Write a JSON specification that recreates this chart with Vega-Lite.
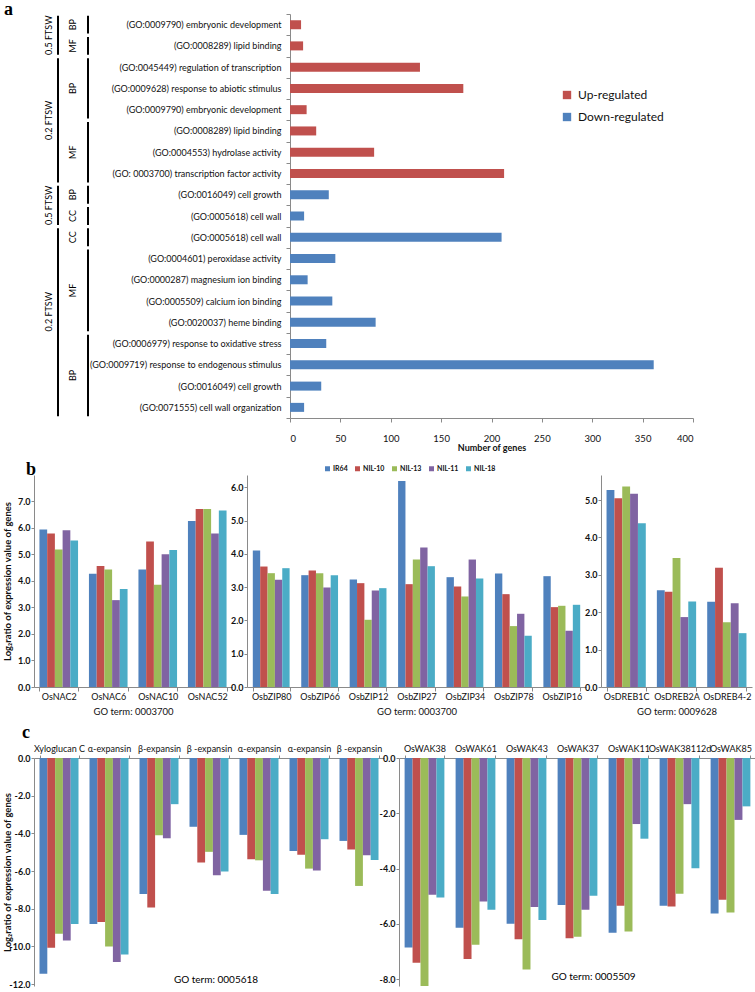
{
"$schema":"https://vega.github.io/schema/vega-lite/v6.json",
"background":"white",
"padding":{"left":2,"top":1,"right":0,"bottom":0},
"config":{
 "font":"Lato",
 "view":{"stroke":null},
 "axis":{"grid":false,"domainColor":"#8a8a8a","tickColor":"#8a8a8a","labelColor":"#111","titleColor":"#111","labelFont":"Lato","titleFont":"Lato"},
 "legend":{"labelFont":"Lato","labelColor":"#111"},
 "title":{"font":"Liberation Serif","fontSize":18,"fontWeight":"bold","color":"#000"}
},
"datasets":{
 "go":[
  {"label":"(GO:0009790) embryonic development","n":11,"reg":"Up-regulated"},
  {"label":"(GO:0008289) lipid binding","n":13,"reg":"Up-regulated"},
  {"label":"(GO:0045449) regulation of transcription","n":129,"reg":"Up-regulated"},
  {"label":"(GO:0009628) response to abiotic stimulus","n":172,"reg":"Up-regulated"},
  {"label":"(GO:0009790) embryonic development\u200b","n":16.5,"reg":"Up-regulated"},
  {"label":"(GO:0008289) lipid binding\u200b","n":26,"reg":"Up-regulated"},
  {"label":"(GO:0004553) hydrolase activity","n":83.5,"reg":"Up-regulated"},
  {"label":"(GO: 0003700) transcription factor activity","n":212.5,"reg":"Up-regulated"},
  {"label":"(GO:0016049) cell growth","n":38.5,"reg":"Down-regulated"},
  {"label":"(GO:0005618) cell wall","n":14,"reg":"Down-regulated"},
  {"label":"(GO:0005618) cell wall\u200b","n":210,"reg":"Down-regulated"},
  {"label":"(GO:0004601) peroxidase activity","n":45,"reg":"Down-regulated"},
  {"label":"(GO:0000287) magnesium ion binding","n":17.5,"reg":"Down-regulated"},
  {"label":"(GO:0005509) calcium ion binding","n":42,"reg":"Down-regulated"},
  {"label":"(GO:0020037) heme binding","n":85,"reg":"Down-regulated"},
  {"label":"(GO:0006979) response to oxidative stress","n":36,"reg":"Down-regulated"},
  {"label":"(GO:0009719) response to endogenous stimulus","n":361,"reg":"Down-regulated"},
  {"label":"(GO:0016049) cell growth\u200b","n":31,"reg":"Down-regulated"},
  {"label":"(GO:0071555) cell wall organization","n":14,"reg":"Down-regulated"}
 ],
 "grp":[
  {"lv":"f","t":"0.5 FTSW","a":"(GO:0009790) embryonic development","b":"(GO:0008289) lipid binding","m":"(GO:0009790) embryonic development","e":1},
  {"lv":"f","t":"0.2 FTSW","a":"(GO:0045449) regulation of transcription","b":"(GO: 0003700) transcription factor activity","m":"(GO:0009790) embryonic development\u200b","e":1},
  {"lv":"f","t":"0.5 FTSW","a":"(GO:0016049) cell growth","b":"(GO:0005618) cell wall","m":"(GO:0016049) cell growth","e":1},
  {"lv":"f","t":"0.2 FTSW","a":"(GO:0005618) cell wall\u200b","b":"(GO:0071555) cell wall organization","m":"(GO:0005509) calcium ion binding","e":1},
  {"lv":"s","t":"BP","a":"(GO:0009790) embryonic development","b":"(GO:0009790) embryonic development","m":"(GO:0009790) embryonic development","e":0},
  {"lv":"s","t":"MF","a":"(GO:0008289) lipid binding","b":"(GO:0008289) lipid binding","m":"(GO:0008289) lipid binding","e":0},
  {"lv":"s","t":"BP","a":"(GO:0045449) regulation of transcription","b":"(GO:0009790) embryonic development\u200b","m":"(GO:0009628) response to abiotic stimulus","e":0},
  {"lv":"s","t":"MF","a":"(GO:0008289) lipid binding\u200b","b":"(GO: 0003700) transcription factor activity","m":"(GO:0004553) hydrolase activity","e":0},
  {"lv":"s","t":"BP","a":"(GO:0016049) cell growth","b":"(GO:0016049) cell growth","m":"(GO:0016049) cell growth","e":0},
  {"lv":"s","t":"CC","a":"(GO:0005618) cell wall","b":"(GO:0005618) cell wall","m":"(GO:0005618) cell wall","e":0},
  {"lv":"s","t":"CC","a":"(GO:0005618) cell wall\u200b","b":"(GO:0005618) cell wall\u200b","m":"(GO:0005618) cell wall\u200b","e":0},
  {"lv":"s","t":"MF","a":"(GO:0004601) peroxidase activity","b":"(GO:0020037) heme binding","m":"(GO:0000287) magnesium ion binding","e":1},
  {"lv":"s","t":"BP","a":"(GO:0006979) response to oxidative stress","b":"(GO:0071555) cell wall organization","m":"(GO:0009719) response to endogenous stimulus","e":1}
 ],
 "b1":[
  {"g":"OsNAC2","s":"IR64","v":5.93},{"g":"OsNAC2","s":"NIL-10","v":5.78},{"g":"OsNAC2","s":"NIL-13","v":5.18},{"g":"OsNAC2","s":"NIL-11","v":5.9},{"g":"OsNAC2","s":"NIL-18","v":5.51},
  {"g":"OsNAC6","s":"IR64","v":4.26},{"g":"OsNAC6","s":"NIL-10","v":4.55},{"g":"OsNAC6","s":"NIL-13","v":4.42},{"g":"OsNAC6","s":"NIL-11","v":3.27},{"g":"OsNAC6","s":"NIL-18","v":3.69},
  {"g":"OsNAC10","s":"IR64","v":4.42},{"g":"OsNAC10","s":"NIL-10","v":5.48},{"g":"OsNAC10","s":"NIL-13","v":3.85},{"g":"OsNAC10","s":"NIL-11","v":5.0},{"g":"OsNAC10","s":"NIL-18","v":5.16},
  {"g":"OsNAC52","s":"IR64","v":6.25},{"g":"OsNAC52","s":"NIL-10","v":6.7},{"g":"OsNAC52","s":"NIL-13","v":6.7},{"g":"OsNAC52","s":"NIL-11","v":5.78},{"g":"OsNAC52","s":"NIL-18","v":6.64}
 ],
 "b2":[
  {"g":"OsbZIP80","s":"IR64","v":4.1},{"g":"OsbZIP80","s":"NIL-10","v":3.62},{"g":"OsbZIP80","s":"NIL-13","v":3.42},{"g":"OsbZIP80","s":"NIL-11","v":3.22},{"g":"OsbZIP80","s":"NIL-18","v":3.57},
  {"g":"OsbZIP66","s":"IR64","v":3.36},{"g":"OsbZIP66","s":"NIL-10","v":3.5},{"g":"OsbZIP66","s":"NIL-13","v":3.42},{"g":"OsbZIP66","s":"NIL-11","v":2.99},{"g":"OsbZIP66","s":"NIL-18","v":3.36},
  {"g":"OsbZIP12","s":"IR64","v":3.23},{"g":"OsbZIP12","s":"NIL-10","v":3.12},{"g":"OsbZIP12","s":"NIL-13","v":2.02},{"g":"OsbZIP12","s":"NIL-11","v":2.9},{"g":"OsbZIP12","s":"NIL-18","v":2.97},
  {"g":"OsbZIP27","s":"IR64","v":6.19},{"g":"OsbZIP27","s":"NIL-10","v":3.09},{"g":"OsbZIP27","s":"NIL-13","v":3.83},{"g":"OsbZIP27","s":"NIL-11","v":4.19},{"g":"OsbZIP27","s":"NIL-18","v":3.63},
  {"g":"OsbZIP34","s":"IR64","v":3.3},{"g":"OsbZIP34","s":"NIL-10","v":3.02},{"g":"OsbZIP34","s":"NIL-13","v":2.72},{"g":"OsbZIP34","s":"NIL-11","v":3.83},{"g":"OsbZIP34","s":"NIL-18","v":3.26},
  {"g":"OsbZIP78","s":"IR64","v":3.41},{"g":"OsbZIP78","s":"NIL-10","v":2.79},{"g":"OsbZIP78","s":"NIL-13","v":1.83},{"g":"OsbZIP78","s":"NIL-11","v":2.2},{"g":"OsbZIP78","s":"NIL-18","v":1.54},
  {"g":"OsbZIP16","s":"IR64","v":3.33},{"g":"OsbZIP16","s":"NIL-10","v":2.4},{"g":"OsbZIP16","s":"NIL-13","v":2.44},{"g":"OsbZIP16","s":"NIL-11","v":1.69},{"g":"OsbZIP16","s":"NIL-18","v":2.47}
 ],
 "b3":[
  {"g":"OsDREB1C","s":"IR64","v":5.27},{"g":"OsDREB1C","s":"NIL-10","v":5.05},{"g":"OsDREB1C","s":"NIL-13","v":5.36},{"g":"OsDREB1C","s":"NIL-11","v":5.17},{"g":"OsDREB1C","s":"NIL-18","v":4.38},
  {"g":"OsDREB2A","s":"IR64","v":2.59},{"g":"OsDREB2A","s":"NIL-10","v":2.55},{"g":"OsDREB2A","s":"NIL-13","v":3.45},{"g":"OsDREB2A","s":"NIL-11","v":1.87},{"g":"OsDREB2A","s":"NIL-18","v":2.29},
  {"g":"OsDREB4-2","s":"IR64","v":2.28},{"g":"OsDREB4-2","s":"NIL-10","v":3.19},{"g":"OsDREB4-2","s":"NIL-13","v":1.73},{"g":"OsDREB4-2","s":"NIL-11","v":2.24},{"g":"OsDREB4-2","s":"NIL-18","v":1.44}
 ],
 "c1":[
  {"g":"Xyloglucan C","s":"IR64","v":-11.45},{"g":"Xyloglucan C","s":"NIL-10","v":-10.07},{"g":"Xyloglucan C","s":"NIL-13","v":-9.33},{"g":"Xyloglucan C","s":"NIL-11","v":-9.68},{"g":"Xyloglucan C","s":"NIL-18","v":-8.81},
  {"g":"α-expansin","s":"IR64","v":-8.81},{"g":"α-expansin","s":"NIL-10","v":-8.71},{"g":"α-expansin","s":"NIL-13","v":-10.0},{"g":"α-expansin","s":"NIL-11","v":-10.83},{"g":"α-expansin","s":"NIL-18","v":-10.43},
  {"g":"β-expansin","s":"IR64","v":-7.22},{"g":"β-expansin","s":"NIL-10","v":-7.94},{"g":"β-expansin","s":"NIL-13","v":-4.1},{"g":"β-expansin","s":"NIL-11","v":-4.26},{"g":"β-expansin","s":"NIL-18","v":-2.45},
  {"g":"β -expansin","s":"IR64","v":-3.65},{"g":"β -expansin","s":"NIL-10","v":-5.55},{"g":"β -expansin","s":"NIL-13","v":-4.98},{"g":"β -expansin","s":"NIL-11","v":-6.22},{"g":"β -expansin","s":"NIL-18","v":-6.03},
  {"g":"α-expansin\u200b","s":"IR64","v":-4.08},{"g":"α-expansin\u200b","s":"NIL-10","v":-5.37},{"g":"α-expansin\u200b","s":"NIL-13","v":-5.43},{"g":"α-expansin\u200b","s":"NIL-11","v":-7.04},{"g":"α-expansin\u200b","s":"NIL-18","v":-7.22},
  {"g":"α-expansin\u200b\u200b","s":"IR64","v":-4.93},{"g":"α-expansin\u200b\u200b","s":"NIL-10","v":-5.14},{"g":"α-expansin\u200b\u200b","s":"NIL-13","v":-5.87},{"g":"α-expansin\u200b\u200b","s":"NIL-11","v":-5.97},{"g":"α-expansin\u200b\u200b","s":"NIL-18","v":-4.31},
  {"g":"β -expansin\u200b","s":"IR64","v":-4.4},{"g":"β -expansin\u200b","s":"NIL-10","v":-4.86},{"g":"β -expansin\u200b","s":"NIL-13","v":-6.79},{"g":"β -expansin\u200b","s":"NIL-11","v":-5.16},{"g":"β -expansin\u200b","s":"NIL-18","v":-5.41}
 ],
 "c2":[
  {"g":"OsWAK38","s":"IR64","v":-6.86},{"g":"OsWAK38","s":"NIL-10","v":-7.41},{"g":"OsWAK38","s":"NIL-13","v":-8.3},{"g":"OsWAK38","s":"NIL-11","v":-4.95},{"g":"OsWAK38","s":"NIL-18","v":-5.05},
  {"g":"OsWAK61","s":"IR64","v":-6.14},{"g":"OsWAK61","s":"NIL-10","v":-7.27},{"g":"OsWAK61","s":"NIL-13","v":-6.76},{"g":"OsWAK61","s":"NIL-11","v":-5.19},{"g":"OsWAK61","s":"NIL-18","v":-5.49},
  {"g":"OsWAK43","s":"IR64","v":-6.0},{"g":"OsWAK43","s":"NIL-10","v":-6.56},{"g":"OsWAK43","s":"NIL-13","v":-7.65},{"g":"OsWAK43","s":"NIL-11","v":-5.39},{"g":"OsWAK43","s":"NIL-18","v":-5.86},
  {"g":"OsWAK37","s":"IR64","v":-5.32},{"g":"OsWAK37","s":"NIL-10","v":-6.52},{"g":"OsWAK37","s":"NIL-13","v":-6.47},{"g":"OsWAK37","s":"NIL-11","v":-5.49},{"g":"OsWAK37","s":"NIL-18","v":-4.98},
  {"g":"OsWAK11","s":"IR64","v":-6.32},{"g":"OsWAK11","s":"NIL-10","v":-5.35},{"g":"OsWAK11","s":"NIL-13","v":-6.28},{"g":"OsWAK11","s":"NIL-11","v":-2.39},{"g":"OsWAK11","s":"NIL-18","v":-2.92},
  {"g":"OsWAK38112d","s":"IR64","v":-5.35},{"g":"OsWAK38112d","s":"NIL-10","v":-5.37},{"g":"OsWAK38112d","s":"NIL-13","v":-4.91},{"g":"OsWAK38112d","s":"NIL-11","v":-1.67},{"g":"OsWAK38112d","s":"NIL-18","v":-3.99},
  {"g":"OsWAK85","s":"IR64","v":-5.63},{"g":"OsWAK85","s":"NIL-10","v":-5.13},{"g":"OsWAK85","s":"NIL-13","v":-5.59},{"g":"OsWAK85","s":"NIL-11","v":-2.24},{"g":"OsWAK85","s":"NIL-18","v":-1.75}
 ]
},
"spacing":8,
"resolve":{"scale":{"x":"independent","y":"independent","color":"independent","xOffset":"independent"},"legend":{"color":"independent"}},
"vconcat":[
 {
  "width":659,"height":404,
  "title":{"text":"a","anchor":"start","frame":"group","dx":-30,"offset":-9},
  "layer":[
   {"data":{"name":"go"},"mark":{"type":"bar","size":9},
    "encoding":{
     "y":{"field":"label","type":"nominal","title":null,
      "scale":{"domain":["(GO:0009790) embryonic development","(GO:0008289) lipid binding","(GO:0045449) regulation of transcription","(GO:0009628) response to abiotic stimulus","(GO:0009790) embryonic development\u200b","(GO:0008289) lipid binding\u200b","(GO:0004553) hydrolase activity","(GO: 0003700) transcription factor activity","(GO:0016049) cell growth","(GO:0005618) cell wall","(GO:0005618) cell wall\u200b","(GO:0004601) peroxidase activity","(GO:0000287) magnesium ion binding","(GO:0005509) calcium ion binding","(GO:0020037) heme binding","(GO:0006979) response to oxidative stress","(GO:0009719) response to endogenous stimulus","(GO:0016049) cell growth\u200b","(GO:0071555) cell wall organization"],"paddingInner":0,"paddingOuter":0},
      "axis":{"title":null,"offset":-256,"labelFontSize":9,"labelPadding":5,"tickBand":"extent","tickSize":4,"labelLimit":280}},
     "x":{"field":"n","type":"quantitative","scale":{"domain":[0,400],"nice":false,"range":[256,659]},
      "axis":{"values":[0,50,100,150,200,250,300,350,400],"title":"Number of genes","titleFontSize":9,"titleFontWeight":"bold","labelFontSize":9.5,"tickSize":4,"titlePadding":1,"labelPadding":11}},
     "color":{"field":"reg","type":"nominal","scale":{"domain":["Up-regulated","Down-regulated"],"range":["#C0504D","#4F81BD"]},
      "legend":{"title":null,"orient":"none","legendX":527,"legendY":75,"labelFontSize":12,"symbolType":"square","symbolSize":70,"rowPadding":10,"labelOffset":5,"symbolStrokeWidth":0}}
    }},
   {"data":{"name":"grp"},"transform":[{"filter":"datum.lv=='f'"}],"mark":{"type":"rule","strokeWidth":2,"color":"#000"},
    "encoding":{"y":{"field":"a","type":"nominal","bandPosition":0.08,"title":null},"y2":{"field":"b","bandPosition":0.92},"x":{"value":24}}},
   {"data":{"name":"grp"},"transform":[{"filter":"datum.lv=='s'"}],"mark":{"type":"rule","strokeWidth":2,"color":"#000"},
    "encoding":{"y":{"field":"a","type":"nominal","bandPosition":0.08,"title":null},"y2":{"field":"b","bandPosition":0.92},"x":{"value":54}}},
   {"data":{"name":"grp"},"transform":[{"filter":"datum.lv=='f'"}],"mark":{"type":"text","angle":270,"fontSize":9,"align":"center","baseline":"middle"},
    "encoding":{"y":{"field":"m","type":"nominal","bandPosition":1,"title":null},"x":{"value":15},"text":{"field":"t"}}},
   {"data":{"name":"grp"},"transform":[{"filter":"datum.lv=='s' && datum.e==0"}],"mark":{"type":"text","angle":270,"fontSize":9,"align":"center","baseline":"middle"},
    "encoding":{"y":{"field":"m","type":"nominal","bandPosition":0.5,"title":null},"x":{"value":39},"text":{"field":"t"}}},
   {"data":{"name":"grp"},"transform":[{"filter":"datum.lv=='s' && datum.e==1"}],"mark":{"type":"text","angle":270,"fontSize":9,"align":"center","baseline":"middle"},
    "encoding":{"y":{"field":"m","type":"nominal","bandPosition":1,"title":null},"x":{"value":39},"text":{"field":"t"}}}
  ]
 },
 {
  "spacing":15,"bounds":"flush",
  "resolve":{"scale":{"x":"independent","y":"independent","color":"independent","xOffset":"independent"},"legend":{"color":"independent"}},
  "hconcat":[
   {"width":198,"height":212,
    "title":{"text":"b","anchor":"start","frame":"group","dx":-8,"offset":-4},
    "data":{"name":"b1"},"mark":{"type":"bar"},
    "encoding":{
     "x":{"field":"g","type":"nominal","sort":null,"scale":{"paddingInner":0.22,"paddingOuter":0.11},
      "axis":{"title":"GO term: 0003700","labelAngle":0,"labelFontSize":9,"titleFontSize":9.5,"titleFontWeight":"normal","tickBand":"extent","tickSize":4,"labelPadding":1,"titlePadding":5}},
     "xOffset":{"field":"s","type":"nominal","scale":{"domain":["IR64","NIL-10","NIL-13","NIL-11","NIL-18"]}},
     "y":{"field":"v","type":"quantitative","scale":{"domain":[0,7.98],"nice":false},
      "axis":{"values":[0,1,2,3,4,5,6,7],"format":".1f","title":"Log\u2082ratio of expression value of genes","titleFontSize":9.5,"titleFontWeight":"bold","labelFontSize":9,"labelFontWeight":"bold","tickSize":3,"labelPadding":1,"titleX":-22}},
     "color":{"field":"s","type":"nominal","scale":{"domain":["IR64","NIL-10","NIL-13","NIL-11","NIL-18"],"range":["#4F81BD","#C0504D","#9BBB59","#8064A2","#4BACC6"]},"legend":null}
    }},
   {"width":339,"height":212,
    "data":{"name":"b2"},"mark":{"type":"bar"},
    "encoding":{
     "x":{"field":"g","type":"nominal","sort":null,"scale":{"paddingInner":0.24,"paddingOuter":0.12},
      "axis":{"title":"GO term: 0003700","labelAngle":0,"labelFontSize":9,"titleFontSize":9.5,"titleFontWeight":"normal","tickBand":"extent","tickSize":4,"labelPadding":1,"titlePadding":5}},
     "xOffset":{"field":"s","type":"nominal","scale":{"domain":["IR64","NIL-10","NIL-13","NIL-11","NIL-18"]}},
     "y":{"field":"v","type":"quantitative","scale":{"domain":[0,6.37],"nice":false},
      "axis":{"values":[0,1,2,3,4,5,6],"format":".1f","title":null,"labelFontSize":9,"labelFontWeight":"bold","tickSize":3,"labelPadding":1}},
     "color":{"field":"s","type":"nominal","scale":{"domain":["IR64","NIL-10","NIL-13","NIL-11","NIL-18"],"range":["#4F81BD","#C0504D","#9BBB59","#8064A2","#4BACC6"]},
      "legend":{"title":null,"orient":"none","legendX":77,"legendY":-10,"direction":"horizontal","columns":5,"symbolType":"square","symbolSize":25,"labelFontSize":7,"labelFontWeight":"bold","columnPadding":6,"labelOffset":2,"symbolStrokeWidth":0}}
    }},
   {"width":151,"height":212,
    "data":{"name":"b3"},"mark":{"type":"bar"},
    "encoding":{
     "x":{"field":"g","type":"nominal","sort":null,"scale":{"paddingInner":0.22,"paddingOuter":0.11},
      "axis":{"title":"GO term: 0009628","labelAngle":0,"labelFontSize":9,"titleFontSize":9.5,"titleFontWeight":"normal","tickBand":"extent","tickSize":4,"labelPadding":1,"titlePadding":5}},
     "xOffset":{"field":"s","type":"nominal","scale":{"domain":["IR64","NIL-10","NIL-13","NIL-11","NIL-18"]}},
     "y":{"field":"v","type":"quantitative","scale":{"domain":[0,5.67],"nice":false},
      "axis":{"values":[0,1,2,3,4,5],"format":".1f","title":null,"labelFontSize":9,"labelFontWeight":"bold","tickSize":3,"labelPadding":1}},
     "color":{"field":"s","type":"nominal","scale":{"domain":["IR64","NIL-10","NIL-13","NIL-11","NIL-18"],"range":["#4F81BD","#C0504D","#9BBB59","#8064A2","#4BACC6"]},"legend":null}
    }}
  ]
 },
 {
  "title":{"text":"c","anchor":"start","dx":20,"offset":2},
  "spacing":15,"bounds":"flush",
  "resolve":{"scale":{"x":"independent","y":"independent","color":"independent","xOffset":"independent"},"legend":{"color":"independent"}},
  "hconcat":[
   {"width":350,"height":228,
    "title":{"text":"GO term: 0005618","orient":"bottom","offset":-14,"dx":7,"font":"Lato","fontSize":10,"fontWeight":"normal"},
    "data":{"name":"c1"},"mark":{"type":"bar","clip":true},
    "encoding":{
     "x":{"field":"g","type":"nominal","sort":null,"scale":{"paddingInner":0.22,"paddingOuter":0.11},
      "axis":{"orient":"top","title":null,"labelAngle":0,"labelFontSize":9,"tickBand":"extent","tickSize":3,"labelPadding":2}},
     "xOffset":{"field":"s","type":"nominal","scale":{"domain":["IR64","NIL-10","NIL-13","NIL-11","NIL-18"]}},
     "y":{"field":"v","type":"quantitative","scale":{"domain":[-12.1,0],"nice":false},
      "axis":{"values":[0,-2,-4,-6,-8,-10,-12],"labelExpr":"replace(format(datum.value,'.1f'),'\u2212','-')","title":"Log\u2082ratio of expression value of genes","titleFontSize":9.5,"titleFontWeight":"bold","labelFontSize":9,"labelFontWeight":"bold","tickSize":3,"labelPadding":1,"titleX":-22}},
     "color":{"field":"s","type":"nominal","scale":{"domain":["IR64","NIL-10","NIL-13","NIL-11","NIL-18"],"range":["#4F81BD","#C0504D","#9BBB59","#8064A2","#4BACC6"]},"legend":null}
    }},
   {"width":357,"height":228,
    "title":{"text":"GO term: 0005509","orient":"bottom","offset":-14,"dx":16,"font":"Lato","fontSize":10,"fontWeight":"normal"},
    "data":{"name":"c2"},"mark":{"type":"bar","clip":true},
    "encoding":{
     "x":{"field":"g","type":"nominal","sort":null,"scale":{"paddingInner":0.22,"paddingOuter":0.11},
      "axis":{"orient":"top","title":null,"labelAngle":0,"labelFontSize":9,"tickBand":"extent","tickSize":3,"labelPadding":2}},
     "xOffset":{"field":"s","type":"nominal","scale":{"domain":["IR64","NIL-10","NIL-13","NIL-11","NIL-18"]}},
     "y":{"field":"v","type":"quantitative","scale":{"domain":[-8.25,0],"nice":false},
      "axis":{"values":[0,-2,-4,-6,-8],"labelExpr":"replace(format(datum.value,'.1f'),'\u2212','-')","title":null,"labelFontSize":9,"labelFontWeight":"bold","tickSize":3,"labelPadding":1}},
     "color":{"field":"s","type":"nominal","scale":{"domain":["IR64","NIL-10","NIL-13","NIL-11","NIL-18"],"range":["#4F81BD","#C0504D","#9BBB59","#8064A2","#4BACC6"]},"legend":null}
    }}
  ]
 }
]
}
